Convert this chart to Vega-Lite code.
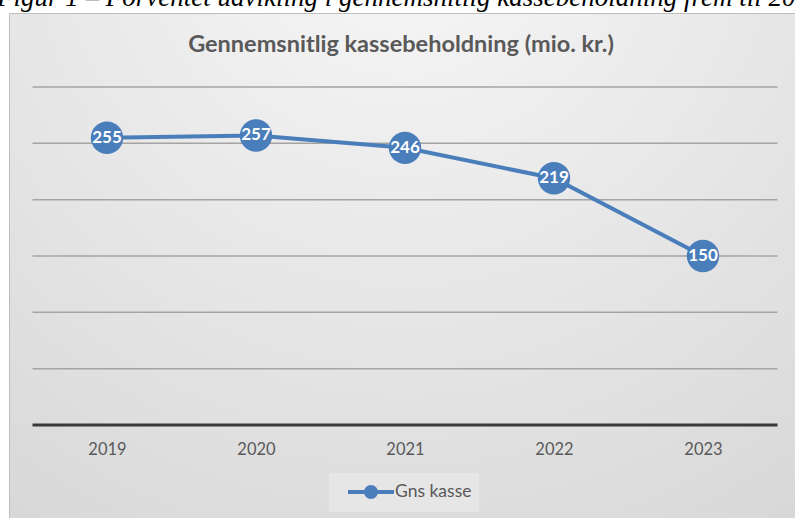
{
  "$schema": "https://vega.github.io/schema/vega-lite/v6.json",
  "width": 786,
  "height": 505,
  "autosize": {"type": "none"},
  "padding": {"left": 9, "top": 13, "right": 0, "bottom": 0},
  "background": "white",
  "title": {
    "text": "Gennemsnitlig kassebeholdning (mio. kr.)",
    "anchor": "middle",
    "frame": "group",
    "offset": -73,
    "dx": -1,
    "font": "Lato",
    "fontSize": 23.5,
    "fontWeight": "bold",
    "color": "#595959"
  },
  "config": {
    "view": {
      "fill": {
        "gradient": "radial",
        "x1": 0.5, "y1": 0.05, "r1": 0,
        "x2": 0.5, "y2": 0.05, "r2": 1.05,
        "stops": [
          {"offset": 0, "color": "#f8f8f8"},
          {"offset": 1, "color": "#d3d3d3"}
        ]
      },
      "stroke": "#bdbdbd",
      "strokeWidth": 1
    }
  },
  "datasets": {
    "kasse": [
      {"year": 2019, "value": 255, "series": "Gns kasse"},
      {"year": 2020, "value": 257, "series": "Gns kasse"},
      {"year": 2021, "value": 246, "series": "Gns kasse"},
      {"year": 2022, "value": 219, "series": "Gns kasse"},
      {"year": 2023, "value": 150, "series": "Gns kasse"}
    ],
    "grid": [
      {"level": 50}, {"level": 100}, {"level": 150},
      {"level": 200}, {"level": 250}, {"level": 300}
    ],
    "baseline": [{"level": 0}],
    "caption": [{"text": "Figur 1 – Forventet udvikling i gennemsnitlig kassebeholdning frem til 2023"}]
  },
  "data": {"name": "kasse"},
  "layer": [
    {
      "data": {"name": "grid"},
      "mark": {"type": "rule", "stroke": "#a4a4a4", "strokeWidth": 1.5},
      "encoding": {
        "y": {"field": "level", "type": "quantitative", "scale": {"domain": [-82.54, 365.68], "nice": false, "zero": false}, "axis": null},
        "x": {"datum": 2018.5, "type": "quantitative", "scale": {"domain": [2018.3423, 2023.6175], "nice": false, "zero": false}},
        "x2": {"datum": 2023.5}
      }
    },
    {
      "data": {"name": "baseline"},
      "mark": {"type": "rule", "stroke": "#3a3a3a", "strokeWidth": 3},
      "encoding": {
        "y": {"field": "level", "type": "quantitative"},
        "x": {"datum": 2018.5, "type": "quantitative"},
        "x2": {"datum": 2023.5}
      }
    },
    {
      "data": {"name": "caption"},
      "mark": {"type": "text", "font": "Liberation Serif", "fontStyle": "italic", "fontSize": 27, "align": "left", "baseline": "alphabetic", "color": "#000000"},
      "encoding": {
        "x": {"datum": 2018.262, "type": "quantitative"},
        "y": {"datum": 372, "type": "quantitative"},
        "text": {"field": "text"}
      }
    },
    {
      "mark": {"type": "line", "strokeWidth": 4},
      "encoding": {
        "x": {
          "field": "year", "type": "quantitative",
          "axis": {
            "values": [2019, 2020, 2021, 2022, 2023],
            "format": "d",
            "offset": -93,
            "domain": false,
            "ticks": false,
            "grid": false,
            "title": null,
            "labelFont": "Lato",
            "labelFontSize": 16.5,
            "labelColor": "#595959",
            "labelPadding": 16
          }
        },
        "y": {"field": "value", "type": "quantitative"},
        "color": {
          "field": "series", "type": "nominal",
          "scale": {"range": ["#4a7ebb"]},
          "legend": {
            "orient": "none",
            "legendX": 320,
            "legendY": 460,
            "title": null,
            "fillColor": "#e6e6e6",
            "padding": 7,
            "symbolType": "M-2.3,0H2.3M-0.5,0A0.5,0.5,0,1,0,0.5,0A0.5,0.5,0,1,0,-0.5,0Z",
            "symbolSize": 400,
            "symbolStrokeWidth": 4,
            "symbolFillColor": "#4a7ebb",
            "symbolStrokeColor": "#4a7ebb",
            "symbolOffset": 23,
            "labelOffset": 12,
            "labelFont": "Lato",
            "labelFontSize": 17.5,
            "labelColor": "#595959"
          }
        }
      }
    },
    {
      "mark": {"type": "circle", "size": 1050, "opacity": 1},
      "encoding": {
        "x": {"field": "year", "type": "quantitative"},
        "y": {"field": "value", "type": "quantitative"},
        "color": {"field": "series", "type": "nominal"}
      }
    },
    {
      "mark": {"type": "text", "color": "white", "font": "Lato", "fontWeight": "bold", "fontSize": 17, "baseline": "middle", "align": "center"},
      "encoding": {
        "x": {"field": "year", "type": "quantitative"},
        "y": {"field": "value", "type": "quantitative"},
        "text": {"field": "value"}
      }
    }
  ]
}
